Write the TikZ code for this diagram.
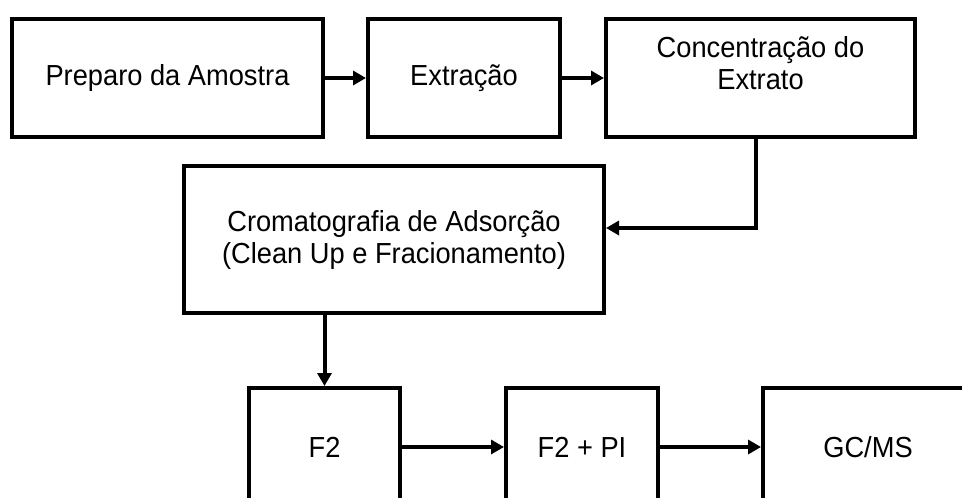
\documentclass[tikz,border=0pt]{standalone}
\usepackage{fontspec}
\setmainfont{Liberation Sans}[FakeStretch=0.94]
\usetikzlibrary{arrows.meta}
\begin{document}
\begin{tikzpicture}[x=1pt,y=-1pt,
  stage/.style={draw=black, line width=4pt, minimum width=#1, minimum height=118pt,
    inner sep=0pt, align=center, font=\fontsize{29}{32}\selectfont},
  label/.style={inner sep=0pt, align=center, font=\fontsize{29}{32}\selectfont},
  flow/.style={line width=4pt, -{Triangle[length=13pt,width=14pt]}}
]
\path[use as bounding box] (0,0) rectangle (962,498);
\clip (0,0) rectangle (962,498);

% top row
\node[stage=311pt] (prep) at (167.5,78) {Preparo da Amostra};
\node[stage=192pt] (extr) at (464,78) {Extração};
\node[stage=309pt] (conc) at (760.5,78) {};
\node[label] (conctext) at (760.5,63) {Concentração do\\Extrato};

% clean-up stage
\node[stage=420pt, minimum height=147pt] (crom) at (394,239.5)
  {Cromatografia de Adsorção\\(Clean Up e Fracionamento)};

% bottom row
\node[stage=151pt] (frac) at (324.5,447) {F2};
\node[stage=152pt] (fpi) at (582,447) {F2 + PI};
\node[stage=210pt] (gcms) at (868,447) {GC/MS};

\coordinate (bend) at (756,228);

\draw[flow] (prep.east) -- (extr.west);
\draw[flow] (extr.east) -- (conc.west);
\draw[flow] (conc.south -| bend) |- (crom.east |- bend);
\draw[flow] (crom.south -| frac.north) -- (frac.north);
\draw[flow] (frac.east) -- (fpi.west);
\draw[flow] (fpi.east) -- (gcms.west);
\end{tikzpicture}
\end{document}
